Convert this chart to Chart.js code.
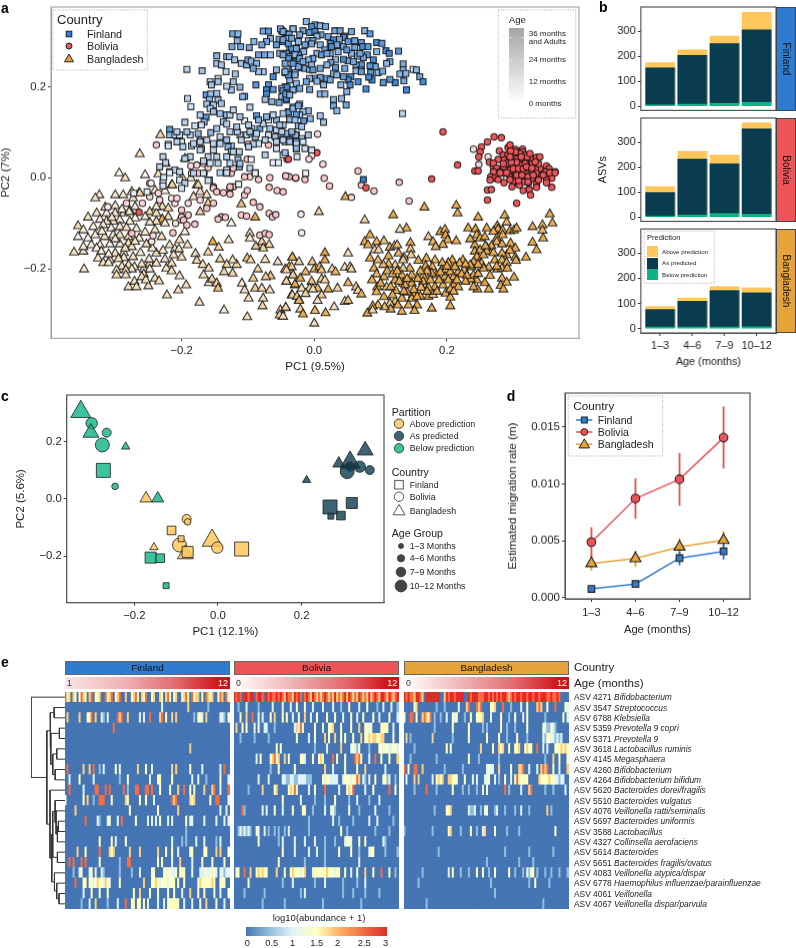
<!DOCTYPE html>
<html><head><meta charset="utf-8">
<script src="https://cdn.jsdelivr.net/npm/chart.js@4"></script>
<style>
html,body{margin:0;padding:0;background:#fff;width:796px;height:948px;overflow:hidden;font-family:"Liberation Sans",Arial,sans-serif}
#root{position:relative;width:796px;height:948px;overflow:hidden}
.t{position:absolute;white-space:nowrap;line-height:1;z-index:6;color:#222}
.b{position:absolute;box-sizing:border-box;z-index:4}
canvas{display:block}
.cv{position:absolute;z-index:2}
svg{position:absolute;left:0;top:0;z-index:5}
</style></head><body><div id="root"></div>
<script>
// ---------- panel a: PC1 x1000, PC2 x1000, age shade code (0-9)
const finlandPts=[[-12,343,5],[1,336,6],[9,334,5],[17,332,6],[-4,332,8],[-32,327,5],[-17,323,6],[-7,319,7],[1,321,8],[10,314,6],[4,311,5],[-9,301,5],[-2,301,6],[-16,277,5],[-27,284,6],[-37,281,5],[-44,317,7],[-49,323,7],[21,310,6],[31,323,6],[39,323,6],[46,311,5],[56,321,6],[44,308,7],[38,304,6],[29,303,8],[24,295,8],[34,292,6],[9,292,5],[-4,294,6],[16,281,6],[26,288,8],[24,273,5],[44,288,6],[51,299,7],[61,301,6],[71,297,7],[76,323,5],[84,316,7],[73,288,8],[61,286,6],[94,297,8],[102,295,7],[80,270,7],[74,264,6],[65,267,6],[56,273,5],[51,257,6],[44,260,8],[32,260,5],[89,259,8],[94,277,5],[108,279,8],[113,273,8],[127,278,7],[114,255,6],[109,251,5],[134,250,6],[134,237,5],[149,238,2],[154,237,5],[159,222,6],[164,211,8],[129,228,5],[138,229,5],[135,213,6],[122,209,8],[114,216,7],[104,209,7],[96,231,5],[92,244,6],[84,246,7],[85,231,7],[103,234,6],[87,215,8],[82,221,8],[71,248,7],[63,247,6],[69,237,6],[63,235,5],[66,211,8],[55,222,8],[51,215,8],[44,222,7],[40,204,5],[54,204,8],[49,189,5],[78,195,8],[139,193,8],[25,253,6],[19,248,5],[32,242,7],[29,229,5],[9,220,6],[19,218,6],[0,218,6],[4,212,5],[-7,218,5],[-12,211,6],[-7,194,6],[9,184,5],[16,184,5],[-22,242,7],[-14,240,6],[-7,238,5],[-39,237,5],[-29,231,5],[-44,231,5],[-37,215,5],[-27,207,5],[-44,200,5],[-49,196,5],[-42,171,7],[-47,182,5],[29,172,5],[41,174,5],[29,158,6],[48,160,6],[34,147,5],[133,141,3],[-22,162,5],[-32,155,5],[-9,147,5],[-17,145,4],[-39,145,4],[-22,138,4],[-6,130,5],[9,136,4],[-16,125,7],[14,122,4],[-37,128,3],[-24,114,5],[-19,112,4],[-9,94,4],[-27,94,4],[-32,97,3],[-19,86,3],[-39,83,3],[-47,97,4],[-49,83,3],[-27,79,3],[-17,79,2],[-44,79,3],[-4,61,2],[-14,64,2],[-27,64,2],[-47,50,2],[-26,46,2],[-13,10,1],[74,-4,9],[-51,327,6],[-32,327,5],[-77,322,6],[-69,322,7],[-47,321,6],[-38,315,6],[-66,306,5],[-53,304,6],[-72,299,6],[-79,292,6],[-57,292,7],[-47,299,7],[-42,306,5],[-34,284,7],[-27,284,6],[-24,270,7],[-42,273,6],[-52,273,5],[-66,270,4],[-75,270,6],[-84,270,6],[-29,255,8],[-37,266,5],[-24,244,6],[-123,316,6],[-115,316,5],[-116,301,5],[-124,288,6],[-111,288,6],[-98,286,6],[-91,299,5],[-147,268,5],[-147,251,4],[-140,248,4],[-132,266,5],[-128,266,5],[-120,259,4],[-110,251,4],[-102,248,5],[-100,259,6],[-95,256,5],[-87,251,5],[-77,233,4],[-84,233,4],[-92,240,6],[-57,237,5],[-41,240,5],[-29,226,5],[-39,226,7],[-62,222,8],[-44,233,5],[-133,233,3],[-119,228,4],[-122,211,4],[-112,199,5],[-125,193,4],[-132,201,3],[-145,218,3],[-157,211,3],[-145,211,4],[-155,204,4],[-192,238,3],[-169,235,4],[-191,174,3],[-186,156,2],[-163,182,7],[-156,184,4],[-147,185,4],[-158,172,5],[-145,171,4],[-140,163,4],[-162,162,4],[-152,160,3],[-157,152,3],[-88,204,7],[-69,204,7],[-62,194,7],[-72,193,8],[-72,184,8],[-47,191,7],[-41,199,8],[-49,178,5],[-42,174,8],[-43,184,7],[-74,172,4],[-64,167,5],[-53,165,6],[-39,144,7],[-32,152,5],[-24,158,6],[-37,128,5],[-27,139,7],[-105,179,5],[-108,178,5],[-97,155,3],[-163,133,7],[-166,123,5],[-195,122,3],[-180,114,2],[-170,116,2],[-218,106,7],[-218,94,5],[-210,94,3],[-203,94,2],[-187,94,3],[-175,97,5],[-156,99,5],[-162,83,3],[-172,79,3],[-200,79,2],[-207,79,3],[-220,74,3],[-198,68,3],[-185,70,4],[-170,64,3],[-152,75,3],[-142,75,3],[-132,138,4],[-137,123,4],[-132,118,3],[-127,138,3],[-105,125,1],[-87,136,7],[-94,108,3],[-82,108,7],[-77,119,3],[-69,127,2],[-57,127,5],[-67,108,4],[-57,105,3],[-47,116,3],[-29,127,4],[-28,94,5],[-42,97,5],[-49,101,3],[-112,94,3],[-102,94,3],[-94,97,2],[-116,101,3],[-69,94,2],[-59,90,4],[-37,83,5],[-47,83,3],[-37,79,4],[-27,75,3],[-74,83,3],[-84,75,2],[-92,74,3],[-99,68,3],[-125,70,4],[-130,68,5],[-113,57,3],[-125,57,3],[-132,46,3],[-147,46,3],[-160,46,3],[-172,61,3],[-115,40,5],[-113,24,5],[-127,32,3],[-145,32,3],[-157,32,2],[-132,17,2],[-167,37,3],[-187,46,3],[-195,42,3],[-228,46,3],[-233,24,3],[-218,13,3],[-210,17,3],[-203,13,3],[-220,70,2],[-224,33,3],[-182,10,3],[-167,10,2],[-62,33,1],[-54,33,1],[-97,21,3],[-89,11,2],[-95,40,1],[-74,50,3],[-57,64,2],[-44,55,4],[-27,64,5],[-112,31,4],[-158,-5,3],[-132,10,3],[-142,11,3],[-203,-5,2],[-228,-9,2],[-228,-18,2],[-272,-34,1],[-252,-31,1],[-227,1,2],[-218,11,1],[-195,-12,3],[-200,-23,2],[-160,-6,2],[-132,11,2],[-114,-14,1],[-89,10,1],
[-47,303,6],[-39,295,7],[-34,306,6],[-24,299,5],[-22,314,6],[-14,292,6],[-29,270,5],[-39,262,7],[-47,270,6],[-22,262,6],[4,273,5],[11,270,7],[-2,262,6],[-9,259,5],[-17,255,6],[-32,251,7],[-44,251,6],[-4,248,5],[9,240,6],[-2,237,7],[19,273,6],[36,277,5],[49,281,7],[69,273,6],[81,288,7],[59,255,6],[71,233,7],[46,240,6],[34,226,5],[24,215,6],[14,204,5],[-22,196,6],[-32,193,5],[-37,182,5],
[-152,145,4],[-172,138,3],[-142,141,4],[-122,149,3],[-112,134,4],[-147,108,4],[-127,101,3],[-110,83,3],[-97,101,4],[-89,90,3],[-57,79,3],[-72,134,5],[-47,141,4],[-62,138,3],[-142,90,3],[-132,83,4],[-122,57,3],[-152,61,3],[-182,75,3],[-192,101,4],[-207,101,3],[-84,127,5],[-99,116,3],[-117,112,4],[-87,97,3],[-52,116,4],[-34,101,5]];
const boliviaPts=[[194,101,9],[216,28,9],[177,-3,9],[261,-49,9],[305,-56,9],[271,90,9],[282,88,9],[261,79,9],[252,68,9],[250,57,9],[248,46,9],[240,63,2],[248,29,2],[262,46,2],[242,15,9],[247,15,9],[264,34,9],[270,24,9],[292,66,9],[295,72,9],[303,62,9],[314,63,9],[314,57,9],[279,59,9],[285,50,9],[292,50,9],[300,52,9],[308,50,9],[318,50,9],[328,42,9],[335,45,9],[340,46,9],[350,26,9],[354,20,9],[363,13,9],[356,11,9],[349,13,9],[340,20,9],[333,20,9],[325,31,9],[318,39,9],[310,40,9],[300,39,9],[294,40,9],[286,39,9],[277,40,9],[270,32,9],[275,21,9],[285,24,9],[295,28,9],[303,28,9],[310,28,9],[319,26,9],[329,31,9],[338,31,9],[280,13,9],[270,13,9],[266,2,9],[272,-1,9],[281,0,2],[287,10,9],[295,17,9],[303,15,9],[311,15,9],[320,15,9],[328,10,9],[335,10,9],[343,6,9],[350,2,9],[358,-1,9],[295,2,9],[303,2,9],[311,2,9],[320,2,9],[328,-1,9],[300,-9,9],[308,-12,9],[315,-9,9],[323,-12,9],[335,-12,9],[350,-5,9],[261,-27,9],[267,-26,9],[265,-5,9],[277,-4,9],[286,-11,9],[295,-4,9],[298,-20,9],[309,-16,9],[315,-28,9],[324,-26,9],[326,-38,9],[335,-21,9],[350,-11,9],[358,-21,9],[338,-5,9],[322,2,9],[308,-6,9],[322,-9,9],[305,6,9],[313,6,9],[290,11,9],[280,11,9],[355,11,9],[363,11,9],[345,6,9],[330,6,9],[300,46,9],[306,42,9],[310,53,9],[321,46,9],[325,53,9],[333,35,9],[290,32,9],[285,31,9],[300,20,9],[308,20,9],[315,20,9],[322,22,9],[318,31,9],[305,34,9],[297,34,9],[312,46,9],[303,57,9],[296,59,9],[320,24,9],[328,21,9],[295,46,9],
[5,96,2],[4,55,9],[-4,48,2],[-8,41,2],[-41,41,8],[13,30,2],[66,15,3],[-43,4,3],[-38,2,3],[-28,-1,3],[-14,-4,3],[15,-1,3],[23,-18,3],[71,-16,3],[78,-22,9],[90,-29,3],[128,-10,3],[56,-43,2],[143,-51,3],[-20,-80,1],[-19,-121,1],[-238,72,3],[-172,83,3],[-100,74,3],[-69,72,3],[-44,53,3],[-39,41,9],[-101,41,3],[-186,26,2],[-177,28,2],[-167,32,2],[-160,22,3],[-125,10,3],[-122,21,3],[-185,10,3],[-175,10,3],[-166,10,2],[-97,2,2],[-84,-4,3],[-67,0,3],[-43,4,3],[-28,0,3],[-105,2,3],[-122,-20,3],[-127,-23,3],[-152,-20,3],[-248,-12,1],[-152,-23,3],[-147,-31,3],[-137,-33,3],[-127,-20,3],[-127,-36,3],[-105,-38,3],[-101,-28,3],[-92,-54,3],[-82,-64,3],[-68,-21,3],[-56,-28,3],[-47,-31,3],[-110,-82,3],[-102,-84,3],[-68,-78,3],[-63,-86,3],[-58,-81,3],[-140,-86,3],[-134,-87,3],[-145,-91,3],[-82,-126,3],[-74,-122,3],[-68,-125,3],[-213,-121,3],[-200,-71,3],[-190,-82,3],[-200,-86,3],[-197,-93,3],[-180,-102,3],[-192,-104,3],[-209,-100,2],[-210,-56,2],[-215,-45,2],[-207,-45,2],[-152,-56,3],[-172,-49,2],[-162,-67,3],[-190,-56,2],[-248,-42,2],[-259,-56,2],[-283,-56,2],[-264,-76,9],[-275,-122,3],[-245,-140,1],[-243,-127,2],[-311,-64,1],[-233,-49,2],[-235,-34,2],[-246,-12,1]];
const bangladeshPts=[[-294,10,1],[-285,-1,3],[-255,6,1],[-263,52,3],[-232,94,4],[-224,31,3],[-195,42,4],[-235,8,3],[-199,0,4],[-215,-16,3],[-177,-16,4],[-186,-1,2],[-324,-38,2],[-330,-45,3],[-300,-38,2],[-288,-38,2],[-275,-31,3],[-264,-33,3],[-356,-106,3],[-348,-115,2],[-356,-130,1],[-362,-164,3],[-348,-162,2],[-348,-152,2],[-347,-201,2],[-341,-87,2],[-328,-78,3],[-315,-65,3],[-300,-62,2],[-313,-78,2],[-300,-78,2],[-287,-78,2],[-278,-73,2],[-270,-89,1],[-278,-96,2],[-293,-93,2],[-303,-96,2],[-313,-96,2],[-323,-92,2],[-333,-108,1],[-318,-104,2],[-306,-111,2],[-293,-108,2],[-330,-126,2],[-341,-133,1],[-316,-130,3],[-303,-126,2],[-293,-126,3],[-280,-130,3],[-264,-133,2],[-280,-144,3],[-293,-146,2],[-308,-146,1],[-323,-148,2],[-336,-148,2],[-328,-155,1],[-321,-162,2],[-300,-166,3],[-287,-165,3],[-275,-152,3],[-273,-174,3],[-287,-176,2],[-326,-177,2],[-308,-181,3],[-318,-187,3],[-310,-187,2],[-290,-195,3],[-298,-203,3],[-280,-192,3],[-271,-196,2],[-275,-201,2],[-284,-203,3],[-298,-214,3],[-284,-214,3],[-257,-201,2],[-248,-188,3],[-238,-188,3],[-248,-201,2],[-257,-212,3],[-280,-240,3],[-271,-228,3],[-268,-240,3],[-260,-218,3],[-250,-238,3],[-254,-225,3],[-240,-221,3],[-234,-227,3],[-223,-199,2],[-215,-188,3],[-225,-179,2],[-249,-179,2],[-238,-166,3],[-244,-155,2],[-253,-146,3],[-218,-148,3],[-210,-157,2],[-204,-157,3],[-203,-137,3],[-212,-170,3],[-191,-148,3],[-179,-167,3],[-177,-182,4],[-168,-191,3],[-159,-199,3],[-203,-216,2],[-222,-258,3],[-205,-247,3],[-193,-236,3],[-173,-274,3],[-167,-214,3],[-159,-231,3],[-154,-223,4],[-147,-232,4],[-145,-243,6],[-136,-291,2],[-109,-232,2],[-105,-247,3],[-101,-306,3],[-92,-221,5],[-89,-243,5],[-99,-265,3],[-77,-265,3],[-78,-282,4],[-79,-243,3],[-67,-247,3],[-66,-216,6],[-73,-218,5],[-51,-291,3],[-43,-286,3],[-48,-304,5],[-42,-228,4],[-38,-196,6],[-44,-201,6],[-32,-214,4],[-33,-175,8],[-29,-236,9],[-34,-258,4],[-23,-269,7],[-55,-185,3],[-74,-180,3],[-68,-147,4],[-79,-141,4],[-77,-155,4],[-88,-151,5],[-97,-122,3],[-97,-133,2],[-85,-201,4],[-101,-177,5],[-96,-181,4],[-117,-191,4],[-123,-181,3],[-132,-191,4],[-136,-207,4],[-123,-210,4],[-142,-179,4],[-160,-164,4],[-144,-153,4],[-129,-137,3],[-153,-141,8],[-89,-87,8],[-110,-58,6],[-125,-100,1],[-195,-119,1],[-172,-75,4],[-160,-56,5],[-182,-42,3],[-172,-31,3],[-162,-38,3],[-175,-16,4],[-203,-93,2],[-220,-86,3],[-229,-91,8],[-225,-100,2],[-238,-96,3],[-248,-98,2],[-248,-75,4],[-255,-86,2],[-270,-64,2],[-279,-75,2],[-238,-78,3],[-229,-64,3],[-220,-67,4],[-240,-28,3],[-263,-34,4],[-273,-45,3],[-225,-29,1],[-214,-16,4],[-238,-64,2],
[-320,-118,2],[-305,-88,3],[-290,-70,2],[-283,-110,3],[-268,-112,2],[-270,-140,3],[-255,-120,2],[-240,-115,3],[-300,-135,2],[-285,-155,3],[-262,-165,2],[-310,-168,2],[-295,-178,3],[-260,-190,3],[-230,-130,3],[-228,-160,2],[-200,-175,3],[-215,-205,3],
[47,-42,8],[7,-75,4],[166,-65,8],[214,-61,8],[216,-78,8],[119,-82,8],[247,-87,8],[76,-93,4],[287,-83,8],[290,-98,7],[355,-80,8],[359,-100,8],[329,-108,8],[344,-104,8],[344,-116,7],[139,-111,8],[129,-114,3],[84,-126,8],[76,-141,8],[81,-148,8],[94,-141,7],[105,-139,6],[114,-153,7],[121,-150,4],[125,-148,6],[145,-143,8],[145,-157,5],[146,-170,5],[172,-130,5],[179,-141,7],[190,-119,8],[197,-114,7],[198,-126,8],[201,-137,8],[214,-139,8],[194,-147,8],[183,-152,7],[232,-111,8],[243,-113,8],[260,-111,8],[245,-126,8],[250,-133,8],[257,-130,8],[276,-106,8],[277,-113,8],[284,-116,8],[295,-117,8],[301,-115,8],[305,-111,8],[284,-126,8],[275,-133,8],[275,-141,7],[267,-150,8],[260,-153,8],[260,-162,8],[283,-146,8],[296,-144,8],[303,-155,8],[242,-148,8],[242,-162,8],[250,-159,8],[329,-142,8],[345,-133,8],[335,-159,8],[319,-175,8],[303,-175,8],[304,-182,8],[290,-170,8],[283,-166,8],[272,-181,8],[283,-181,8],[290,-187,7],[245,-174,8],[240,-185,8],[252,-188,8],[263,-197,8],[276,-201,8],[283,-199,8],[291,-199,8],[283,-221,8],[301,-219,8],[281,-237,8],[285,-245,8],[263,-245,8],[246,-245,8],[257,-231,9],[245,-225,8],[236,-223,8],[240,-214,8],[247,-211,8],[255,-199,8],[237,-196,8],[247,-191,8],[235,-192,8],[224,-181,8],[219,-188,8],[208,-181,8],[202,-187,8],[193,-187,8],[182,-181,7],[169,-177,8],[157,-182,8],[178,-196,8],[168,-194,8],[192,-203,8],[198,-203,8],[205,-207,8],[210,-218,8],[217,-207,8],[226,-203,8],[184,-214,8],[177,-210,8],[164,-216,8],[197,-218,8],[202,-225,8],[210,-236,8],[217,-240,8],[194,-236,8],[182,-240,8],[172,-241,8],[162,-241,8],[164,-228,8],[147,-232,8],[147,-214,8],[144,-199,8],[134,-199,5],[135,-175,7],[127,-166,7],[134,-181,5],[122,-192,5],[112,-190,7],[104,-191,7],[90,-199,8],[94,-212,7],[87,-225,8],[105,-218,8],[109,-240,5],[95,-240,8],[94,-251,8],[122,-225,8],[132,-214,7],[134,-232,8],[123,-248,8],[137,-236,8],[149,-256,8],[132,-265,8],[161,-241,7],[160,-261,8],[172,-261,8],[179,-257,5],[198,-254,8],[205,-263,8],[205,-245,8],[147,-265,8],[142,-280,8],[155,-280,8],[122,-272,7],[114,-276,6],[126,-280,8],[115,-289,8],[106,-284,7],[96,-280,7],[88,-282,8],[80,-298,8],[88,-291,4],[132,-294,8],[151,-292,8],[177,-287,8],[205,-282,8],[84,-177,8],[96,-181,7],[91,-159,4],[97,-159,4],[16,-165,9],[51,-166,3],[16,-181,8],[-33,-175,7],[-23,-185,4],[-3,-185,5],[-34,-196,5],[-42,-203,4],[-13,-207,7],[0,-201,7],[8,-196,7],[11,-203,6],[27,-201,4],[32,-207,7],[46,-197,3],[54,-196,4],[56,-201,4],[-32,-214,5],[-42,-228,4],[-29,-234,8],[-21,-221,8],[-4,-228,6],[11,-223,4],[16,-225,4],[51,-231,7],[-19,-243,3],[-7,-243,4],[5,-243,7],[-2,-245,3],[21,-245,8],[35,-243,4],[63,-240,5],[66,-248,4],[71,-256,8],[-33,-258,4],[-26,-261,5],[-13,-255,4],[11,-258,5],[5,-270,3],[-23,-270,7],[46,-272,3],[51,-270,6],[30,-284,3],[-21,-289,5],[-17,-300,8],[1,-292,7],[17,-297,8],[0,-320,3],[-43,-285,4],[-52,-302,4],[-47,-305,3],
[110,-205,8],[118,-212,8],[128,-228,8],[140,-222,8],[150,-246,8],[156,-222,8],[170,-205,8],[175,-225,8],[188,-225,8],[190,-208,8],[200,-195,8],[212,-196,8],[222,-212,8],[230,-215,8],[228,-190,8],[215,-225,8],[185,-250,8],[170,-250,8],[155,-262,8],[140,-252,8],[115,-240,8],[105,-262,8],[118,-258,8],[135,-250,8],[100,-232,8],[125,-205,8],[112,-172,8],[160,-205,8],[270,-165,8],[255,-170,8],[265,-215,8],[295,-160,8],[270,-118,8],[235,-135,8],[258,-150,8],[275,-195,8],[290,-230,8],[228,-228,8],[240,-240,8],[210,-250,8]];
const pcaTicks=[-0.2,0,0.2];
// ---------- panel b
const ageGroups=['1–3','4–6','7–9','10–12'];
const asvBelow={Finland:[5,8,11,15],Bolivia:[4,8,14,11],Bangladesh:[6,6,6,7]};
const asvAsPredicted={Finland:[148,195,239,290],Bolivia:[94,224,199,342],Bangladesh:[70,103,146,136]};
const asvAbove={Finland:[21,22,30,70],Bolivia:[24,31,35,24],Bangladesh:[12,13,16,20]};
const asvTicks=[0,100,200,300];
// ---------- panel c: [PC1, PC2, country (0 Finland,1 Bolivia,2 Bangladesh), age group (0-3)]
const partitionBelow=[[-0.328,0.305,2,3],[-0.302,0.2646,1,2],[-0.304,0.232,2,2],[-0.266,0.232,1,1],[-0.2765,0.189,1,3],[-0.2207,0.183,2,0],[-0.274,0.1,0,3],[-0.246,0.044,1,0],[-0.144,0.002,2,1],[-0.161,-0.205,0,2],[-0.138,-0.207,0,1],[-0.124,-0.303,0,0]];
const partitionAbove=[[-0.172,0.002,2,1],[-0.075,-0.07,1,1],[-0.0725,-0.08,1,0],[-0.111,-0.11,0,1],[-0.092,-0.161,1,3],[-0.088,-0.139,0,0],[-0.153,-0.169,2,0],[-0.078,-0.193,2,2],[-0.0725,-0.185,0,2],[-0.014,-0.145,2,3],[-0.0016,-0.17,1,2],[0.0566,-0.175,0,3]];
const partitionAs=[[0.212,0.066,2,0],[0.289,0.124,2,1],[0.316,0.128,2,3],[0.352,0.17,2,2],[0.316,0.113,1,1],[0.309,0.0956,1,3],[0.339,0.113,1,2],[0.363,0.101,1,1],[0.32,-0.014,0,2],[0.268,-0.028,0,3],[0.294,-0.058,0,1],[0.27,-0.06,0,0]];
// ---------- panel d
const migFinland=[0.00077,0.0012,0.00347,0.00407];
const migFinlandLow=[0.00062,0.00095,0.00287,0.00338];
const migFinlandHigh=[0.00092,0.00145,0.00404,0.0048];
const migBolivia=[0.00488,0.00872,0.01041,0.01408];
const migBoliviaLow=[0.0036,0.00697,0.00812,0.01139];
const migBoliviaHigh=[0.00617,0.01047,0.0127,0.01678];
const migBangladesh=[0.00301,0.00344,0.00447,0.00505];
const migBangladeshLow=[0.0024,0.00272,0.0038,0.00439];
const migBangladeshHigh=[0.0037,0.0041,0.0052,0.00582];
const migTicks=[0,0.005,0.01,0.015];
// ---------- panel e: for each row, runs of [first column, digits]; digit = abundance level
const asvNames=[['ASV 4271','Bifidobacterium'],['ASV 3547','Streptococcus'],['ASV 6788','Klebsiella'],['ASV 5359','Prevotella 9 copri'],['ASV 5371','Prevotella 9'],['ASV 3618','Lactobacillus ruminis'],['ASV 4145','Megasphaera'],['ASV 4260','Bifidobacterium'],['ASV 4264','Bifidobacterium bifidum'],['ASV 5620','Bacteroides dorei/fragilis'],['ASV 5510','Bacteroides vulgatus'],['ASV 4076','Veillonella ratti/seminalis'],['ASV 5697','Bacteroides uniformis'],['ASV 3588','Lactobacillus'],['ASV 4327','Collinsella aerofaciens'],['ASV 5614','Bacteroides'],['ASV 5651','Bacteroides fragilis/ovatus'],['ASV 4083','Veillonella atypica/dispar'],['ASV 6778','Haemophilus influenzae/parainfluenzae'],['ASV 4061','Veillonella'],['ASV 4067','Veillonella dispar/parvula']];
const levelColors=['#4575B4','#91BFDB','#E0F3F8','#FFFFBF','#FDCF7E','#F46D43','#D73027'];
const heatFinland=[
[[0,"5340430354304503340053450345004003453043500340043045303400345305344030543400354053"]],
[[48,"2"],[61,"4"],[71,"1"]],
[[1,"4"],[7,"4"],[11,"33"],[13,"5"],[15,"4"],[18,"2"],[19,"1"],[21,"2"],[26,"545"],[31,"4"],[37,"2"],[39,"2"],[42,"5"],[47,"45"],[50,"3"],[53,"4"],[55,"4"],[64,"1"],[66,"332"],[70,"4"],[77,"221"],[81,"3"]],
[[24,"5"]],[],[[62,"4"]],[],
[[1,"5"],[9,"4"],[12,"4"],[14,"5"],[17,"1"],[19,"2"],[25,"3"],[27,"2"],[36,"4"],[40,"3"],[43,"2"],[53,"4"],[55,"4"],[62,"3"],[68,"2"],[77,"2"],[79,"5"]],
[[2,"2"],[7,"3"],[14,"2"],[27,"1"],[31,"3"],[42,"2"],[46,"33"],[53,"3"],[63,"2"],[66,"2"],[70,"1"],[77,"3"],[81,"2"]],
[[2,"5"],[9,"2"],[15,"55"],[20,"5"],[22,"5"],[29,"5"],[31,"1"],[35,"55"],[40,"55"],[43,"5"],[47,"3"],[52,"3"],[56,"4"],[59,"5"],[62,"3"],[64,"3"],[69,"4"],[73,"45"],[77,"2"],[81,"5"]],
[[0,"3"],[9,"3"],[11,"4"],[14,"1"],[17,"555"],[23,"3"],[30,"43"],[37,"3"],[40,"3"],[44,"2"],[53,"545"],[62,"434"],[72,"3"],[75,"55"],[81,"2"]],
[[5,"4"],[32,"3"],[46,"3"],[56,"4"],[77,"2"],[80,"2"]],
[[10,"5"],[16,"21"],[21,"23"],[26,"2"],[28,"5"],[35,"3"],[41,"2"],[43,"2"],[45,"2"],[47,"3"],[51,"2"],[53,"2"],[60,"3"],[62,"22"],[69,"2"],[75,"2"],[79,"2"],[81,"2"]],
[[60,"1"]],
[[17,"3"],[23,"3"],[25,"2"],[30,"3"],[53,"2"],[58,"1"],[60,"1"],[65,"2"],[69,"2"],[75,"1"],[77,"2"]],
[[6,"4"],[10,"3"],[17,"5"],[22,"434"],[32,"4"],[37,"4"],[46,"4"],[50,"3"],[53,"3"],[56,"2"],[62,"33"],[69,"33"],[75,"4"],[77,"4"],[81,"3"]],
[[2,"5"],[4,"5"],[8,"5"],[10,"5"],[17,"3"],[27,"1"],[31,"55"],[46,"3"],[48,"3"],[53,"2"],[57,"4"],[63,"2"],[68,"3"],[73,"3"],[79,"3"]],
[[4,"1"],[7,"23"],[12,"23"],[15,"2"],[18,"21"],[27,"1"],[33,"1"],[37,"2"],[43,"33"],[49,"3323223"],[57,"333"],[63,"2"],[67,"222323232"],[77,"22122"]],
[[5,"5"],[9,"33"],[12,"33234332432"],[27,"3"],[39,"4"],[43,"334323332333"],[56,"3"],[59,"3"],[66,"343333343"],[77,"333"]],
[[9,"2"],[13,"3"],[17,"3"],[21,"3"],[34,"3"],[37,"4"],[42,"3"],[46,"3"],[51,"3"],[54,"3"],[58,"2"],[62,"4"],[66,"3"],[69,"3"],[74,"3"],[77,"2"],[81,"3"]],
[[8,"1"],[12,"2"],[15,"4"],[21,"1"],[26,"2"],[30,"5"],[33,"33"],[36,"33"],[39,"3"],[41,"2"],[46,"2"],[49,"2"],[51,"333333"],[59,"2"],[63,"2"],[67,"3"],[70,"4"],[75,"3"],[79,"2"]]
];
const heatBolivia=[
[[0,"6565066566056650656556565465546565056546545456545464545646545465454645654665465456"]],
[[2,"1"],[6,"2"],[12,"1"],[19,"2"],[24,"2"],[28,"2"],[31,"3"],[35,"3"],[39,"2"],[44,"2"],[49,"2"],[53,"1"],[57,"3"],[62,"2"],[66,"3"],[71,"1"],[74,"2"],[78,"2"],[81,"1"]],
[[3,"3"],[6,"4"],[9,"5"],[12,"2"],[14,"2"],[18,"3"],[20,"4"],[24,"3"],[26,"3"],[29,"2"],[32,"3"],[35,"4"],[38,"2"],[41,"3"],[46,"3"],[50,"3"],[54,"2"],[58,"3"],[61,"2"],[64,"3"],[69,"3"],[72,"2"],[77,"3"],[81,"2"]],
[[1,"4"],[4,"3"],[6,"3"],[10,"2"],[12,"3"],[15,"22"],[20,"1"],[30,"24253"],[40,"3"],[44,"2"],[47,"334"],[53,"3"],[58,"3"],[62,"4"],[65,"3323"],[73,"3333"],[79,"2"]],
[[3,"1"],[10,"1"],[17,"1"],[31,"3"],[37,"2"],[40,"3"],[45,"4"],[47,"3"],[50,"4"],[53,"3"],[55,"3"],[59,"3"],[63,"4"],[65,"3343443344"],[79,"3"]],
[[21,"3"],[23,"3"],[40,"1"],[46,"2"],[53,"4"],[58,"23213"],[67,"1"],[72,"3323322332"]],
[[11,"2"],[13,"3"],[18,"34534"],[25,"4"],[27,"3"],[33,"332"],[39,"3"],[42,"343"],[49,"5"],[51,"3"],[55,"3"],[60,"5453"],[67,"2"],[70,"5"],[73,"3"],[77,"3"],[81,"4"]],
[[18,"1"],[22,"3"],[30,"3"],[45,"4"],[49,"2"],[55,"3"],[61,"3"],[65,"4"],[75,"2"]],
[[12,"2"],[17,"2"],[24,"221122112222111"],[44,"32332222"],[54,"233323354"],[64,"21"],[67,"2"],[70,"3"],[74,"3312"],[80,"1"]],
[[7,"1"],[14,"4"],[20,"34"],[27,"34353"],[37,"2"],[40,"3"],[45,"5"],[52,"2"],[56,"3435"],[65,"2"],[69,"3"],[77,"5"],[80,"3"]],
[[24,"3"],[33,"2"],[40,"1"],[45,"1"],[50,"3"],[57,"1"],[61,"2"],[67,"1"],[72,"2"]],
[[4,"51"],[14,"2"],[16,"2"],[20,"3"],[24,"2"],[29,"3"],[34,"33"],[39,"1"],[45,"2"],[48,"231"],[57,"3"],[62,"1"],[70,"2"],[77,"1"]],
[[37,"1"],[49,"2"],[52,"1"],[59,"1"],[67,"2"],[71,"2"],[79,"1"]],
[[2,"1212121"],[11,"32"],[15,"2"],[17,"1"],[20,"1"],[22,"1"],[25,"1"],[27,"2"],[37,"1"],[53,"3"],[56,"1"],[70,"1"],[77,"1"]],
[[12,"3"],[22,"1"],[24,"2"],[30,"2"],[35,"2"],[40,"2"],[45,"1"],[50,"1"],[55,"2332"],[62,"3"],[65,"3"],[74,"21"]],
[[24,"3"],[30,"2"],[37,"2"],[41,"2"],[45,"1"],[52,"3"],[58,"3"],[62,"1"],[67,"233"],[75,"1"],[81,"1"]],
[[22,"3"],[35,"1"],[45,"1"],[62,"2"]],
[[1,"33"],[5,"5"],[8,"4"],[11,"343433"],[21,"4"],[25,"3"],[28,"34333234"],[39,"23333334333233"],[55,"3"],[58,"2"],[61,"3"],[65,"4"],[69,"3"],[73,"5"],[77,"3"],[80,"1"]],
[[7,"3"],[24,"1"],[29,"2"],[40,"1"],[45,"2"],[54,"1"],[61,"1"],[65,"2"]],
[[5,"1"],[15,"1"],[33,"1"],[35,"2"],[54,"1"],[59,"1"],[65,"1"],[72,"1"]],
[[14,"1"],[25,"1"],[44,"1"],[63,"1"]]
];
const heatBangladesh=[
[[0,"6565546654066666660046566566660065666555665656565665456566566566566566655655650"]],
[[5,"34"],[16,"1"],[20,"1"],[27,"2"],[31,"45"],[36,"545"],[43,"334"],[49,"5"],[53,"1"],[58,"2"],[61,"3"],[66,"454"],[71,"3"],[75,"5"],[80,"32"]],
[[0,"3"],[3,"55"],[6,"3"],[9,"45435"],[15,"1"],[18,"1"],[21,"2"],[24,"323"],[30,"1"],[33,"3"],[36,"3334"],[43,"2"],[48,"3"],[52,"1"],[55,"3"],[59,"2"],[61,"3"],[70,"1"],[79,"3"],[81,"2"]],
[[15,"1"],[24,"3"],[32,"3"],[39,"1"],[41,"1"],[48,"3"],[51,"1"],[55,"1"],[61,"3"],[69,"3211321"]],
[[1,"4"],[3,"1"],[14,"4"],[24,"1"],[32,"3"],[41,"3"],[47,"3"],[51,"1"],[56,"3"],[61,"1"],[69,"2133221212"]],
[[5,"1"],[21,"3"],[23,"3"],[38,"4"],[44,"3"],[47,"434"],[52,"3"],[55,"334"],[60,"3433"],[66,"5"],[69,"2"],[71,"2"],[75,"3334343"]],
[[3,"1"],[16,"1"],[32,"3"],[37,"1"],[47,"1"],[70,"1"],[74,"4"],[77,"3"],[81,"3"]],
[[0,"5"],[2,"3"],[5,"55"],[9,"4"],[20,"1"],[29,"1"],[41,"2322"],[47,"4"],[53,"3"],[57,"445"],[62,"2"],[66,"2"],[68,"4545"],[74,"3"],[77,"2"],[81,"4"]],
[[1,"2"],[5,"4"],[7,"4"],[14,"2"],[16,"3434"],[22,"44333"],[30,"3"],[34,"2"],[36,"2"],[40,"223"],[45,"2"],[47,"1"],[50,"3"],[53,"2"],[55,"3533333"],[67,"4333343322122"]],
[[5,"1"],[11,"5"],[16,"1"],[24,"3"],[29,"1"],[32,"1"],[36,"1"],[39,"2"],[41,"3"],[50,"5"],[52,"1"],[58,"2"],[62,"45"],[70,"1"],[74,"1"],[80,"2"]],
[],
[[15,"1"],[21,"334"],[32,"2112"],[38,"1"],[40,"23"],[45,"12"],[50,"1"],[55,"1"],[58,"2"],[62,"1"],[71,"4"],[73,"1"]],
[],
[[0,"1"],[14,"1"],[22,"34"],[28,"1"],[33,"3"],[36,"1"],[39,"24"],[45,"3"],[51,"1"],[57,"1"],[75,"3"]],
[],
[[17,"1"],[50,"1"],[62,"1"],[74,"1"]],
[[41,"1"],[57,"1"],[64,"1"]],
[[9,"1"],[22,"2"],[24,"3"],[28,"1"],[32,"1"],[36,"3"],[39,"3"],[42,"1"],[45,"3"],[52,"3"],[55,"1"],[59,"1"],[61,"2133"],[66,"1"],[70,"1"],[73,"1"],[77,"1"],[81,"1"]],
[[7,"1"],[43,"1"],[62,"1"],[65,"3"],[72,"1"]],
[[45,"1"]],
[[11,"1"],[69,"1"]]
];
// dendrogram merges: [height, rowA, heightA, rowB, heightB]
const dendroMerges=[[0.32,1,0,2,0],[0.165,3,0,4,0],[0.243,5,0,6,0],[0.29,7,0,8,0],[0.36,5.5,0.243,7.5,0.29],[0.417,3.5,0.165,6.5,0.36],[0.44,1.5,0.32,5,0.417],[0.175,19,0,20,0],[0.243,18,0,19.5,0.175],[0.31,17,0,18.75,0.243],[0.194,12,0,13,0],[0.223,12.5,0.194,14,0],[0.262,11,0,13.25,0.223],[0.29,10,0,12.125,0.262],[0.223,15,0,16,0],[0.36,11.06,0.29,15.5,0.223],[0.388,13.28,0.36,17.875,0.31],[0.44,9,0,15.58,0.388],[0.534,3.25,0.44,12.29,0.44],[1,0,0,7.77,0.534]];

// ---------- helpers
const FONT='"Liberation Sans", Arial, sans-serif';
Chart.defaults.font.family=FONT;Chart.defaults.color='#222';
const COL={F:'#2E7BD0',B:'#EE5358',G:'#E6A33A'};
const PRED={above:'#FEC75C',as:'#0A3C4F',below:'#0DB384'};
const root=document.getElementById('root');
Chart.register({id:'frame',afterDraw(c,a,o){if(!o||!o.color)return;const x=c.ctx,A=c.chartArea;x.save();x.strokeStyle=o.color;x.lineWidth=o.width||1;x.strokeRect(A.left,A.top,A.right-A.left,A.bottom-A.top);x.restore();}});
function mk(plot,cv,cfg,frame,pad){
  const PT=pad===undefined?10:pad,PR=pad===undefined?14:pad;
  const d=document.createElement('div');d.className='cv';
  const W=plot.r+PR-cv.left,H=cv.bottom-(plot.t-PT);
  d.style.cssText=`left:${cv.left}px;top:${plot.t-PT}px;width:${W}px;height:${H}px`;
  const c=document.createElement('canvas');c.width=W;c.height=H;c.style.width=W+'px';c.style.height=H+'px';d.appendChild(c);root.appendChild(d);
  cfg.options=cfg.options||{};
  Object.assign(cfg.options,{responsive:false,animation:false,devicePixelRatio:1,layout:{autoPadding:false,padding:{top:PT,right:PR,left:0,bottom:0}}});
  cfg.options.plugins=Object.assign({legend:{display:false},tooltip:{enabled:false},frame:frame||{}},cfg.options.plugins||{});
  const s=cfg.options.scales;
  if(s&&s.x&&s.x.display!==false){s.x.afterFit=a=>{a.height=cv.bottom-plot.b;};}
  if(s&&s.y&&s.y.display!==false){s.y.afterFit=a=>{a.width=plot.l-cv.left;};}
  return new Chart(c,cfg);
}
function axis(min,max,ticks,o){o=o||{};return{type:'linear',min,max,offset:false,stacked:!!o.stacked,
  afterBuildTicks:s=>{s.ticks=ticks.map(v=>({value:v}));},
  grid:{drawOnChartArea:false,drawTicks:true,tickLength:o.tl===undefined?3:o.tl,tickColor:'#333',color:'#333',offset:false},
  border:{display:true,color:o.border||'#666',width:1},
  ticks:{display:o.noLabels?false:true,autoSkip:false,maxRotation:0,minRotation:0,color:'#222',font:{size:o.size||11},padding:o.pad===undefined?2:o.pad,callback:o.fmt||(v=>v)},
  title:{display:!!o.title,text:o.title||'',font:{size:o.tsize||11.5},color:'#222',padding:0}};}
const pcFmt=v=>v<0?'\u2212'+Math.abs(v).toFixed(1):v.toFixed(1);
const catFmt=v=>ageGroups[v];
function tint(hex,a){const n=parseInt(hex.slice(1),16),f=a/9;const m=c=>Math.round(255+(c-255)*f);return`rgb(${m(n>>16)},${m((n>>8)&255)},${m(n&255)})`;}
function t(x,y,s,size,o){o=o||{};const e=document.createElement('div');e.className='t';
  const ax=o.anchor==='middle'?'-50%':o.anchor==='end'?'-100%':'0';
  e.style.left=x+'px';e.style.top=y+'px';e.style.fontSize=size+'px';
  e.style.transform=`translate(${ax},-50%)`+(o.rot?` rotate(${o.rot}deg)`:'');
  if(o.color)e.style.color=o.color;if(o.bold)e.style.fontWeight='bold';
  if(o.italic){e.innerHTML=s+' <i>'+o.italic+'</i>';}else e.textContent=s;root.appendChild(e);}
function box(l,tp,r,b,css){const e=document.createElement('div');e.className='b';e.style.cssText=`left:${l}px;top:${tp}px;width:${r-l}px;height:${b-tp}px;${css}`;root.appendChild(e);}

// ---------- panel a
function pcaSet(pts,col,style,r){return{data:pts.map(p=>({x:p[0]/1000,y:p[1]/1000})),showLine:false,pointStyle:style,pointRadius:r,pointBorderWidth:1.1,
  pointBackgroundColor:pts.map(p=>tint(col,p[2])),pointBorderColor:'rgba(15,15,15,.85)',clip:false};}
mk({l:51,t:7,r:579,b:338},{left:-1,bottom:373.6},{type:'scatter',data:{datasets:[pcaSet(finlandPts,COL.F,'rect',4.2),pcaSet(boliviaPts,COL.B,'circle',3.2),pcaSet(bangladeshPts,COL.G,'triangle',5.2)]},
 options:{scales:{x:axis(-0.3968,0.399,pcaTicks,{fmt:pcFmt,title:'PC1 (9.5%)',size:11.3,pad:3,border:'#888'}),y:axis(-0.3527,0.375,pcaTicks,{fmt:pcFmt,title:'PC2 (7%)',size:11.3,pad:2,border:'#888'})}}},{color:'#aaa',width:1.2});

// ---------- panel b
const facets=[['Finland',7,111,COL.F],['Bolivia',118,222,COL.B],['Bangladesh',229,333,COL.G]];
facets.forEach((f,i)=>{const nm=f[0],below=asvBelow[nm],as=asvAsPredicted[nm],ab=asvAbove[nm];
 const ds=(vals,col)=>({data:vals.map((v,k)=>({x:k,y:v})),backgroundColor:col,barThickness:29,stack:'a',borderWidth:0});
 const last=i===2;
 mk({l:641,t:f[1],r:776,b:f[2]},{left:597.4,bottom:last?369:f[2]+8},{type:'bar',data:{datasets:[ds(below,PRED.below),ds(as,PRED.as),ds(ab,PRED.above)]},
  options:{scales:{x:axis(-0.6,3.6,[0,1,2,3],{stacked:true,fmt:catFmt,noLabels:!last,tl:last?3:0,title:last?'Age (months)':'',tsize:10.8,size:10.8,pad:4,border:'#555'}),
   y:axis(-17.1,396.7,asvTicks,{stacked:true,size:11,title:i===1?'ASVs':'',tsize:10.8,border:'#555'})}}},{color:'#555',width:1.2},undefined);
 box(776,f[1],796,f[2],`background:${f[3]};border:1px solid #444;`);
 t(785.5,(f[1]+f[2])/2,nm,10,{anchor:'middle',rot:90,color:'#111'});
});
// ---------- panel c
const cSize=[[4.2,6.1,7.8,9.9],[3.3,4.5,5.7,7],[4.8,7,9.2,11.5]];
const cStyle=['rect','circle','triangle'];
function cSet(pts,col){return{data:pts.map(p=>({x:p[0],y:p[1]})),showLine:false,pointStyle:pts.map(p=>cStyle[p[2]]),pointRadius:pts.map(p=>cSize[p[2]][p[3]]),pointBackgroundColor:col,pointBorderColor:'rgba(40,40,40,.85)',pointBorderWidth:1,clip:false};}
const al=(h,a)=>{const n=parseInt(h.slice(1),16);return`rgba(${n>>16},${(n>>8)&255},${n&255},${a})`;};
mk({l:66.7,t:395,r:384,b:602.7},{left:14,bottom:639},{type:'scatter',data:{datasets:[cSet(partitionAbove,al(PRED.above,.85)),cSet(partitionAs,al(PRED.as,.8)),cSet(partitionBelow,al(PRED.below,.8))]},
 options:{scales:{x:axis(-0.3617,0.397,pcaTicks,{fmt:pcFmt,title:'PC1 (12.1%)',size:11.3,pad:3,border:'#555'}),y:axis(-0.3626,0.3636,pcaTicks,{fmt:pcFmt,title:'PC2 (5.6%)',size:11.3,border:'#555'})}}},{color:'#555',width:1.2});
// ---------- panel d
function errSet(lo,hi,col){return{type:'bar',data:lo.map((v,k)=>({x:k,y:[v,hi[k]]})),backgroundColor:col,barThickness:1.2,grouped:false,order:5};}
function lineSet(vals,col,style,r){return{type:'line',data:vals.map((v,k)=>({x:k,y:v})),borderColor:col,borderWidth:1.5,tension:0,pointStyle:style,pointRadius:r,pointBackgroundColor:col,pointBorderColor:'#222',pointBorderWidth:1.1,order:1,clip:false};}
mk({l:565,t:393.3,r:750.3,b:599},{left:506,bottom:637},{type:'bar',data:{datasets:[errSet(migFinlandLow,migFinlandHigh,COL.F),errSet(migBoliviaLow,migBoliviaHigh,COL.B),errSet(migBangladeshLow,migBangladeshHigh,COL.G),lineSet(migFinland,COL.F,'rect',4.7),lineSet(migBolivia,COL.B,'circle',4.3),lineSet(migBangladesh,COL.G,'triangle',6.4)]},
 options:{scales:{x:axis(-0.6,3.6,[0,1,2,3],{fmt:catFmt,title:'Age (months)',size:11,tsize:11.2,pad:4,border:'#555'}),y:axis(-0.00011,0.018,migTicks,{fmt:v=>v.toFixed(3),title:'Estimated migration rate (m)',size:11.5,tsize:11.6,border:'#555'})}}},{color:'#555',width:1.2});
// ---------- panel e
const COLS=82;
function heat(l,r,rows){const data=[],colors=[];
 rows.forEach((runs,ri)=>{const line=new Array(COLS).fill(0);runs.forEach(run=>{[...run[1]].forEach((ch,k)=>{if(run[0]+k<COLS)line[run[0]+k]=+ch;});});
  line.forEach((v,ci)=>{data.push({x:ci+0.5,y:[ri,ri+1]});colors.push(levelColors[v]);});});
 mk({l,t:692.3,r,b:909.3},{left:l,bottom:909.3},{type:'bar',data:{datasets:[{data,backgroundColor:colors,barThickness:(r-l)/COLS+0.4,grouped:false,borderWidth:0}]},
  options:{scales:{x:{type:'linear',display:false,min:0,max:COLS,offset:false},y:{type:'linear',display:false,min:0,max:21,reverse:true}}}},null,0);}
heat(65,230,heatFinland);heat(234,399.3,heatBolivia);heat(404,569,heatBangladesh);
mk({l:30.7,t:692.3,r:65,b:909.3},{left:30.7,bottom:909.3},{type:'scatter',data:{datasets:dendroMerges.map(m=>({data:[{x:m[2],y:m[1]},{x:m[0],y:m[1]},{x:m[0],y:m[3]},{x:m[4],y:m[3]}],showLine:true,pointRadius:0,borderColor:'#333',borderWidth:1,tension:0,clip:false}))},
 options:{scales:{x:{type:'linear',display:false,min:0,max:1,reverse:true},y:{type:'linear',display:false,min:-0.5,max:20.5,reverse:true}}}},null,0);
[['Finland',65,230,COL.F,'#f9e4e4','1'],['Bolivia',234,399.3,COL.B,'#ffffff','0'],['Bangladesh',404,569,COL.G,'#ffffff','0']].forEach(p=>{
 box(p[1],660.7,p[2],675,`background:${p[3]};border:1px solid #666;`);
 t((p[1]+p[2])/2,668,p[0],9.9,{anchor:'middle',color:'#111'});
 box(p[1],676.7,p[2],688.7,`background:linear-gradient(to right,${p[4]},#f0b4b6 35%,#e2686c 68%,#d0181c 92%,#cc1015);`);
 t(p[1]+2,682.8,p[5],8.8,{color:'#333'});t(p[2]-2,683,'12',9,{anchor:'end',color:'#fff'});
});
t(574,668.3,'Country',11.5);t(574,683.3,'Age (months)',11.6);
asvNames.forEach((n,i)=>t(574,692.3+(i+.5)*10.333,n[0],8.4,{italic:n[1]}));
t(319,918.3,'log10(abundance + 1)',9.5,{anchor:'middle'});
box(246.3,926.7,387.3,936,`background:linear-gradient(to right,${levelColors[0]},#91BFDB 17%,#E0F3F8 33%,#FFFFBF 50%,#FDAE61 67%,#F46D43 83%,#D73027);`);
[['0',247.3],['0.5',271.7],['1',292.7],['1.5',316.7],['2',337.7],['2.5',364.3],['3',385.7]].forEach(p=>t(p[1],943.5,p[0],9.3,{anchor:'middle'}));

// ---------- panel letters and legends
[['a',1,8],['b',599,7],['c',1,396],['d',506.7,395.7],['e',1,661.7]].forEach(p=>t(p[1],p[2],p[0],14,{bold:true,color:'#000'}));
const S=[];
const sq=(x,y,h,f,s,w)=>S.push(`<rect x="${x-h}" y="${y-h}" width="${2*h}" height="${2*h}" fill="${f}" stroke="${s}" stroke-width="${w||1}"/>`);
const ci=(x,y,r,f,s,w)=>S.push(`<circle cx="${x}" cy="${y}" r="${r}" fill="${f}" stroke="${s}" stroke-width="${w||1}"/>`);
const tr=(x,y,wd,f,s,w)=>{const h=wd*.866;S.push(`<path d="M${x} ${y-h*.6}L${x+wd/2} ${y+h*.4}L${x-wd/2} ${y+h*.4}Z" fill="${f}" stroke="${s}" stroke-width="${w||1}"/>`);};
const dot=(l,tp,r,b)=>S.push(`<rect x="${l}" y="${tp}" width="${r-l}" height="${b-tp}" fill="none" stroke="#999" stroke-width=".8" stroke-dasharray="1 1.4"/>`);
const ln=(a,b,c,d,col,w)=>S.push(`<line x1="${a}" y1="${b}" x2="${c}" y2="${d}" stroke="${col}" stroke-width="${w}"/>`);
// a
dot(53,10,147.3,70);t(57,19.3,'Country',13);
sq(69,34,2.8,COL.F,'#222');ci(69,46,3,COL.B,'#222');tr(69,58.7,9,COL.G,'#222');
t(87,34,'Finland',10.7);t(87,46,'Bolivia',10.7);t(87,58.7,'Bangladesh',10.7);
dot(498.3,10,575.7,118);t(508.7,19.5,'Age',9.7);
box(508.7,28.3,524.3,103,'background:linear-gradient(to bottom,#a5a5a5,#fff);');
[37.5,60,82].forEach(y=>{ln(508.7,y,511.7,y,'#eee',.8);ln(521.3,y,524.3,y,'#eee',.8);});
t(528.7,33.7,'36 months',8);t(528.7,42,'and Adults',8);t(528.7,60,'24 months',8);t(528.7,82,'12 months',8);t(528.7,104.3,'0 months',8);
// b
dot(644.3,231,714.3,283.3);t(647,238.3,'Prediction',7.5);
box(647,246,658.3,256.7,`background:${PRED.above};`);box(647,257.7,658.3,268.7,`background:${PRED.as};`);box(647,269.3,658.3,280.3,`background:${PRED.below};`);
t(662,251.7,'Above prediction',6.2);t(662,263.3,'As predicted',6.2);t(662,275.3,'Below prediction',6.2);
// c
t(391.7,412.3,'Partition',10.6);
ci(399,423.7,4.7,al(PRED.above,.85),'#444');ci(399,436,4.7,al(PRED.as,.8),'#444');ci(399,448.3,4.7,al(PRED.below,.8),'#444');
t(409.7,423.7,'Above prediction',8.8);t(409.7,436,'As predicted',8.8);t(409.7,448.3,'Below prediction',8.8);
t(391.7,471.7,'Country',10.6);
sq(399,484.7,4.3,'none','#555');ci(399,496.7,4.7,'none','#555');tr(399,510.7,12,'none','#555');
t(409.7,484.7,'Finland',8.8);t(409.7,496.7,'Bolivia',8.8);t(409.7,510.7,'Bangladesh',8.8);
t(391.7,533,'Age Group',10.6);
ci(401,546,2.5,'#444','#444');ci(401,558.3,3.6,'#444','#444');ci(401,572,4.8,'#444','#444');ci(401,586,5.9,'#444','#444');
t(409.7,546,'1–3 Months',8.8);t(409.7,558.3,'4–6 Months',8.8);t(409.7,572,'7–9 Months',8.8);t(409.7,586,'10–12 Months',8.8);
// d
dot(568.3,396,662.7,456);t(573.3,405.7,'Country',11.7);
ln(576,420,592.3,420,COL.F,1.5);ln(576,432,592.3,432,COL.B,1.5);ln(576,444.3,592.3,444.3,COL.G,1.5);
sq(584.3,420,3,COL.F,'#222');ci(584.3,432,3.4,COL.B,'#222');tr(584.3,444.3,10.5,COL.G,'#222');
t(597.7,420,'Finland',10.6);t(597.7,432,'Bolivia',10.6);t(597.7,444.3,'Bangladesh',10.6);
const sv=document.createElement('div');sv.innerHTML=`<svg width="796" height="948" xmlns="http://www.w3.org/2000/svg">${S.join('')}</svg>`;root.appendChild(sv.firstChild);
</script></body></html>
